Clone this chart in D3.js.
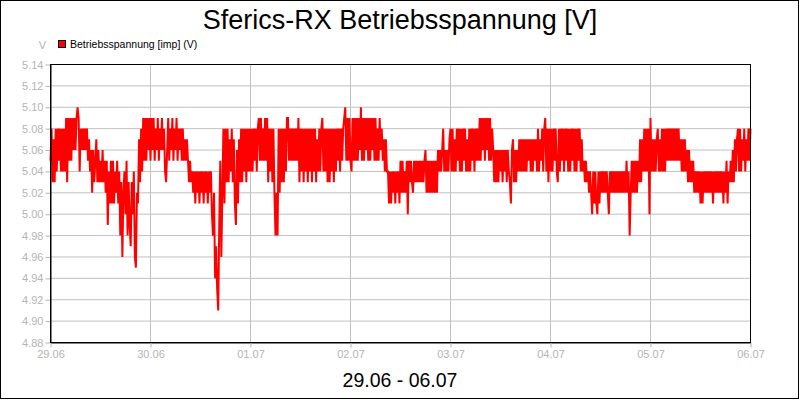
<!DOCTYPE html>
<html>
<head>
<meta charset="utf-8">
<script src="https://cdn.jsdelivr.net/npm/d3@7"></script>
<style>
    body { margin: 0; background: #fff; }
    svg { display: block; font-family: "Liberation Sans", Arial, sans-serif; }
</style>
</head>
<body>
<svg id="chart"></svg>
<script>
const xTickLabels = ["29.06", "30.06", "01.07", "02.07", "03.07", "04.07", "05.07", "06.07"];
const yTicks = [4.88, 4.90, 4.92, 4.94, 4.96, 4.98, 5.00, 5.02, 5.04, 5.06, 5.08, 5.10, 5.12, 5.14];
const samplesPerDay = 96;

// Betriebsspannung in 1/100 V, one sample every 15 min, one array per day
const v2906 = [
    505,508,503,507,503,508,504,508,505,508,504,508, 504,508,504,509,503,509,505,509,505,509,506,509,
    506,509,510,509,504,508,506,508,506,508,506,508, 505,507,504,506,502,506,503,505,507,503,506,503,
    505,503,506,503,505,502,505,499,504,501,505,501, 505,501,504,502,505,501,504,498,503,496,502,504,
    500,505,498,503,499,497,503,500,504,496,495,502, 501,507,503,508,504,509,505,509,505,509,506,509];
const v3006 = [
    505,509,506,509,505,508,506,509,505,508,506,509, 506,508,504,503,506,509,505,508,506,509,505,508,
    506,509,505,508,506,508,505,508,505,507,505,507, 505,503,505,503,504,502,504,501,504,502,504,501,
    504,502,504,501,504,502,504,501,504,502,504,500, 498,502,494,497,493,491,499,505,496,502,508,501,
    508,503,508,503,507,504,508,503,507,501,499,506, 501,507,503,508,503,508,504,508,503,508,504,508];
const v0107 = [
    504,508,504,508,505,508,504,508,509,505,509,505, 508,505,509,505,509,503,508,504,508,503,508,502,
    498,502,498,508,502,508,503,508,503,508,504,509, 509,505,508,505,508,505,508,505,508,505,509,503,
    508,504,508,503,508,504,508,503,508,504,508,503, 508,504,508,503,507,504,508,504,508,509,504,508,
    504,508,503,508,503,508,504,508,503,508,504,508, 505,508,504,508,505,508,509,510,505,509,505,509];
const v0207 = [
    505,504,509,505,509,505,509,505,509,506,510,505, 509,505,509,506,509,505,509,505,509,506,509,505,
    509,505,508,505,509,506,508,505,507,504,507,504, 504,501,504,501,504,502,504,501,504,502,504,501,
    505,502,505,502,504,502,505,500,505,503,505,503, 502,505,503,505,503,505,503,505,503,505,503,505,
    506,502,505,502,505,502,505,502,505,502,505,502, 506,504,506,504,506,508,504,506,504,506,504,507];
const v0307 = [
    508,504,508,504,507,504,508,505,508,504,508,504, 508,505,508,504,507,504,508,504,508,505,508,504,
    508,505,508,505,509,505,509,506,509,505,509,506, 509,505,509,505,508,506,503,506,503,506,503,506,
    504,506,503,506,504,506,503,506,504,503,501,506, 507,503,506,503,506,504,507,504,507,504,507,504,
    507,504,507,505,507,504,507,504,507,505,507,504, 508,504,507,505,508,504,508,509,504,508,503,508];
const v0407 = [
    504,508,504,508,505,508,504,503,508,504,508,505, 508,504,508,505,508,504,508,504,508,505,508,504,
    508,504,508,505,508,504,507,504,505,503,505,503, 504,502,504,502,500,504,501,504,501,500,504,501,
    504,502,504,502,504,502,504,502,500,504,502,504, 502,504,502,504,502,504,502,504,502,504,502,504,
    502,505,502,504,498,502,505,502,505,502,505,502, 505,503,507,503,507,504,508,504,508,504,508,500];
const v0507 = [
    509,504,507,504,507,504,507,508,504,507,504,508, 504,508,504,508,505,508,505,508,505,508,505,508,
    505,508,505,508,505,507,504,507,504,507,504,506, 503,506,503,505,503,505,502,504,502,504,502,504,
    501,504,501,504,502,504,502,504,502,504,502,504, 501,504,502,504,502,504,502,504,502,504,501,504,
    502,505,501,504,503,505,503,506,503,507,504,507, 508,504,508,504,507,505,508,504,507,505,508,505];
const v0607 = [508];

class VoltageChart {

    constructor(_config, _data) {
        this.config = {
            parentElement: _config.parentElement,
            width: 800,
            height: 400,
            margin: { top: 64, right: 50, bottom: 58, left: 50 }
        }
        this.data = _data;
        this.initVis();
    }

    initVis() {
        let vis = this;

        vis.innerWidth = vis.config.width - vis.config.margin.left - vis.config.margin.right;
        vis.innerHeight = vis.config.height - vis.config.margin.top - vis.config.margin.bottom;

        vis.svg = d3.select(vis.config.parentElement)
            .attr('width', vis.config.width)
            .attr('height', vis.config.height);

        // outer border
        vis.svg.append('rect')
            .attr('x', 0.5).attr('y', 0.5)
            .attr('width', vis.config.width - 2)
            .attr('height', vis.config.height - 2)
            .attr('fill', '#fff')
            .attr('stroke', '#000');

        vis.svg.append('text')
            .attr('x', 400)
            .attr('y', 29)
            .attr('text-anchor', 'middle')
            .attr('font-size', '27px')
            .attr('fill', '#000')
            .text('Sferics-RX Betriebsspannung [V]');

        vis.svg.append('text')
            .attr('x', 400)
            .attr('y', 387)
            .attr('text-anchor', 'middle')
            .attr('font-size', '19.5px')
            .attr('fill', '#000')
            .text('29.06 - 06.07');

        vis.svg.append('text')
            .attr('x', 42.5)
            .attr('y', 49)
            .attr('text-anchor', 'middle')
            .attr('font-size', '11px')
            .attr('fill', '#b4b4b4')
            .text('V');

        // legend
        vis.svg.append('rect')
            .attr('x', 58.5).attr('y', 40.5)
            .attr('width', 7).attr('height', 7)
            .attr('fill', '#ff0000')
            .attr('stroke', '#000');

        vis.svg.append('text')
            .attr('x', 70)
            .attr('y', 48)
            .attr('font-size', '10.5px')
            .attr('fill', '#000')
            .text('Betriebsspannung [imp] (V)');

        vis.chart = vis.svg.append('g')
            .attr('transform', `translate(${vis.config.margin.left + 0.5},${vis.config.margin.top + 0.5})`);

        vis.xScale = d3.scaleLinear()
            .domain([0, xTickLabels.length - 1])
            .range([0, vis.innerWidth]);

        vis.yScale = d3.scaleLinear()
            .domain([yTicks[0], yTicks[yTicks.length - 1]])
            .range([vis.innerHeight, 0]);

        vis.xAxis = d3.axisBottom(vis.xScale)
            .tickValues(d3.range(xTickLabels.length))
            .tickFormat((d, i) => xTickLabels[i])
            .tickSize(5)
            .tickSizeOuter(0)
            .tickPadding(3);

        vis.yAxis = d3.axisLeft(vis.yScale)
            .tickValues(yTicks)
            .tickFormat(d3.format('.2f'))
            .tickSize(5)
            .tickSizeOuter(0)
            .tickPadding(2);

        vis.gridG = vis.chart.append('g').attr('class', 'grid');
        vis.linePath = vis.chart.append('path')
            .attr('fill', 'none')
            .attr('stroke', '#ff0000')
            .attr('stroke-width', 2)
            .attr('stroke-linejoin', 'miter');
        vis.xAxisG = vis.chart.append('g')
            .attr('transform', `translate(0,${vis.innerHeight})`);
        vis.yAxisG = vis.chart.append('g');
        vis.frame = vis.chart.append('rect')
            .attr('width', vis.innerWidth)
            .attr('height', vis.innerHeight)
            .attr('fill', 'none')
            .attr('stroke', '#000');

        vis.updateVis();
    }

    updateVis() {
        let vis = this;

        vis.xValue = (d, i) => i / samplesPerDay;
        vis.yValue = d => d / 100;

        vis.line = d3.line()
            .x((d, i) => vis.xScale(vis.xValue(d, i)))
            .y(d => vis.yScale(vis.yValue(d)));

        vis.renderVis();
    }

    renderVis() {
        let vis = this;

        vis.gridG.selectAll('.hgrid')
            .data(yTicks.slice(1, -1))
            .join('line')
            .attr('class', 'hgrid')
            .attr('x1', 0).attr('x2', vis.innerWidth)
            .attr('y1', d => vis.yScale(d)).attr('y2', d => vis.yScale(d))
            .attr('stroke', '#c0c0c0');

        vis.gridG.selectAll('.vgrid')
            .data(d3.range(1, xTickLabels.length - 1))
            .join('line')
            .attr('class', 'vgrid')
            .attr('x1', d => vis.xScale(d)).attr('x2', d => vis.xScale(d))
            .attr('y1', 0).attr('y2', vis.innerHeight)
            .attr('stroke', '#c0c0c0');

        vis.linePath
            .datum(vis.data)
            .attr('d', vis.line);

        vis.xAxisG.call(vis.xAxis);
        vis.yAxisG.call(vis.yAxis);

        [vis.xAxisG, vis.yAxisG].forEach(g => {
            g.select('.domain').attr('stroke', '#000');
            g.selectAll('.tick line').attr('stroke', '#b4b4b4');
            g.selectAll('.tick text')
                .attr('fill', '#b4b4b4')
                .attr('font-size', '11px')
                .attr('font-family', '"Liberation Sans", Arial, sans-serif');
        });
    }
}

const spannung = [].concat(v2906, v3006, v0107, v0207, v0307, v0407, v0507, v0607);

new VoltageChart({ parentElement: '#chart' }, spannung);
</script>
</body>
</html>
